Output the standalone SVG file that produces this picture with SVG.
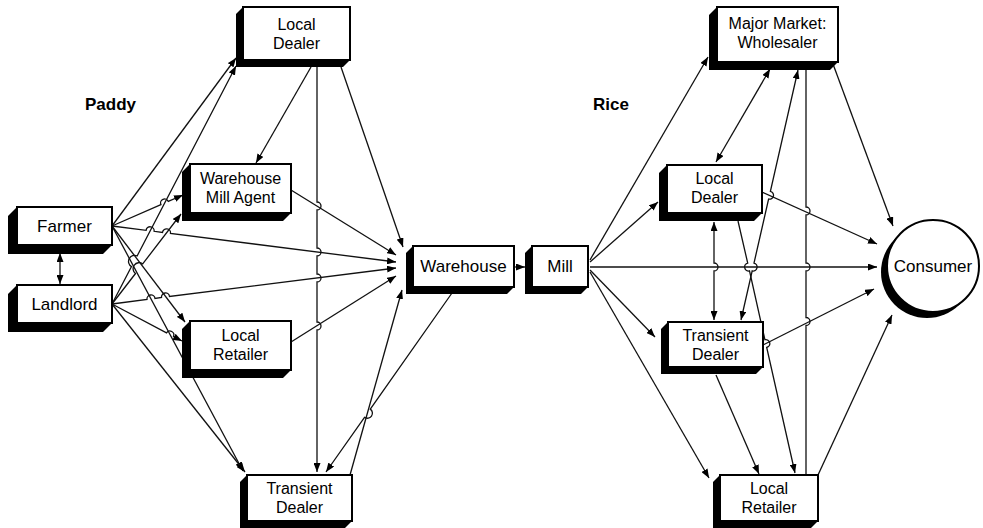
<svg xmlns="http://www.w3.org/2000/svg" width="983" height="528" viewBox="0 0 983 528">
<defs>
<marker id="ah" viewBox="0 0 9 7" refX="9" refY="3.5" markerWidth="9" markerHeight="7" markerUnits="userSpaceOnUse" orient="auto-start-reverse"><path d="M0,0 L9,3.5 L0,7 z" fill="#000"/></marker>
<style>
.c{fill:none;stroke:#111;stroke-width:1.3}
.a{marker-end:url(#ah)}
.b{marker-start:url(#ah);marker-end:url(#ah)}
.sh{fill:#000}
.bx{fill:#fff;stroke:#000;stroke-width:2}
.t{font-family:"Liberation Sans",Arial,sans-serif;font-size:17px;fill:#000;text-anchor:middle}
.t2{font-family:"Liberation Sans",Arial,sans-serif;font-size:16px;fill:#000;text-anchor:middle}
.h{font-family:"Liberation Sans",Arial,sans-serif;font-size:17px;font-weight:bold;fill:#000}
</style>
</defs>
<rect width="983" height="528" fill="#fff"/>
<text class="h" x="85" y="110">Paddy</text>
<text class="h" x="593" y="110">Rice</text>
<g id="connectors">
<path class="c a" d="M112,226 L236,58"/>
<path class="c a" d="M112,304 L131.5,266.6 A6,6 0 0 1 137.1,256 L236,66"/>
<path class="c a" d="M311,67 L256,163"/>
<path class="c a" d="M112,226 L160.9,204.6 A4,4 0 0 1 168.3,201.4 L183,195"/>
<path class="c a" d="M112,304 L135.5,273.5 A6,6 0 0 1 142.7,263.9 L181,214"/>
<path class="c a" d="M112,226 L146.1,230.3 A4,4 0 0 1 154.1,231.3 L162.5,232.4 A4,4 0 0 1 170.5,233.4 L396,262"/>
<path class="c a" d="M112,304 L147,299.5 A4,4 0 0 1 155,298.5 L161.5,297.5 A4,4 0 0 1 169.5,296.5 L396,268"/>
<path class="c a" d="M291,190 L396,255"/>
<path class="c a" d="M291,342 L396,276"/>
<path class="c a" d="M112,226 L185,322"/>
<path class="c a" d="M112,304 L166.5,332.8 A4,4 0 0 1 173.5,336.6 L182,341"/>
<path class="c a" d="M112,226 L243,471"/>
<path class="c a" d="M112,304 L245,472"/>
<path class="c a" d="M317,67 L317,202 A4,4 0 0 1 317,210 L317,248 A4,4 0 0 1 317,256 L317,274 A4,4 0 0 1 317,282 L317,322 A4,4 0 0 1 317,330 L317,472"/>
<path class="c a" d="M341,67 L403,247"/>
<path class="c a" d="M452,293 L370.3,409.1 A5,5 0 0 1 364.5,417.3 L326,472"/>
<path class="c a" d="M350,475 L402,290"/>
<path class="c b" d="M60,253 L60,284"/>
<path class="c a" d="M514,267 L525,267"/>
<path class="c a" d="M590,260 L708,57"/>
<path class="c a" d="M590,262 L658,202"/>
<path class="c a" d="M590,267 L877,267"/>
<path class="c a" d="M590,270 L655,337"/>
<path class="c a" d="M590,272 L709,478"/>
<path class="c b" d="M770,69 L716,162"/>
<path class="c b" d="M798,70 L770.4,191.3 A4,4 0 0 1 768.6,199.1 L754,263.1 A4,4 0 0 1 752.2,270.9 L741,320"/>
<path class="c a" d="M762,192 L877,244"/>
<path class="c a" d="M738,221 L747.7,263.1 A4,4 0 0 0 749.5,270.9 L764.9,339.7 A4,4 0 0 1 766.7,347.5 L795,473"/>
<path class="c b" d="M714,222 L714,263 A4,4 0 0 1 714,271 L714,320"/>
<path class="c" d="M806,68 L806,207 A4,4 0 0 1 806,215 L806,263 A4,4 0 0 1 806,271 L806,317.5 A4,4 0 0 1 806,325.5 L806,475"/>
<path class="c a" d="M833,64 L893,226"/>
<path class="c a" d="M763,345 L874,289"/>
<path class="c a" d="M818,475 L892,315"/>
<path class="c a" d="M716,375 L759,474"/>
</g>
<g id="paddy-local-dealer"><polygon class="sh" points="243,7 236,14 236,67 343,67 350,60"/><rect class="bx" x="243" y="7" width="107" height="53"/><text class="t2" x="296.5" y="30">Local</text><text class="t2" x="296.5" y="48.5">Dealer</text></g>
<g id="warehouse-mill-agent"><polygon class="sh" points="190,164 182,172 182,221 283,221 291,213"/><rect class="bx" x="190" y="164" width="101" height="49"/><text class="t2" x="240.5" y="184">Warehouse</text><text class="t2" x="240.5" y="202.5">Mill Agent</text></g>
<g id="farmer"><polygon class="sh" points="17,207 8,216 8,254 103,254 112,245"/><rect class="bx" x="17" y="207" width="95" height="38"/><text class="t" x="64.5" y="232">Farmer</text></g>
<g id="landlord"><polygon class="sh" points="17,285 8,294 8,332 103,332 112,323"/><rect class="bx" x="17" y="285" width="95" height="38"/><text class="t" x="64.5" y="310">Landlord</text></g>
<g id="paddy-local-retailer"><polygon class="sh" points="190,321 182,329 182,378 283,378 291,370"/><rect class="bx" x="190" y="321" width="101" height="49"/><text class="t2" x="240.5" y="341">Local</text><text class="t2" x="240.5" y="359.5">Retailer</text></g>
<g id="paddy-transient-dealer"><polygon class="sh" points="247,475 240,482 240,528 345,528 352,521"/><rect class="bx" x="247" y="475" width="105" height="46"/><text class="t2" x="299.5" y="494">Transient</text><text class="t2" x="299.5" y="512.5">Dealer</text></g>
<g id="warehouse"><polygon class="sh" points="413,246 406,253 406,294 507,294 514,287"/><rect class="bx" x="413" y="246" width="101" height="41"/><text class="t" x="463.5" y="272">Warehouse</text></g>
<g id="mill"><polygon class="sh" points="532,246 525,253 525,294 581,294 588,287"/><rect class="bx" x="532" y="246" width="56" height="41"/><text class="t" x="560" y="272">Mill</text></g>
<g id="major-market-wholesaler"><polygon class="sh" points="717,7 709,15 709,70 830,70 838,62"/><rect class="bx" x="717" y="7" width="121" height="55"/><text class="t2" x="777.5" y="29">Major Market:</text><text class="t2" x="777.5" y="47.5">Wholesaler</text></g>
<g id="rice-local-dealer"><polygon class="sh" points="667,165 659,173 659,221 754,221 762,213"/><rect class="bx" x="667" y="165" width="95" height="48"/><text class="t2" x="714.5" y="184">Local</text><text class="t2" x="714.5" y="202.5">Dealer</text></g>
<g id="rice-transient-dealer"><polygon class="sh" points="668,322 661,329 661,374 756,374 763,367"/><rect class="bx" x="668" y="322" width="95" height="45"/><text class="t2" x="715.5" y="341">Transient</text><text class="t2" x="715.5" y="359.5">Dealer</text></g>
<g id="rice-local-retailer"><polygon class="sh" points="720,475 713,482 713,528 811,528 818,521"/><rect class="bx" x="720" y="475" width="98" height="46"/><text class="t2" x="769" y="494">Local</text><text class="t2" x="769" y="512.5">Retailer</text></g>
<g id="consumer"><circle cx="927" cy="272" r="46" fill="#000"/><circle cx="933" cy="266" r="46" fill="#fff" stroke="#000" stroke-width="2"/><text class="t" x="933" y="272">Consumer</text></g>
</svg>
